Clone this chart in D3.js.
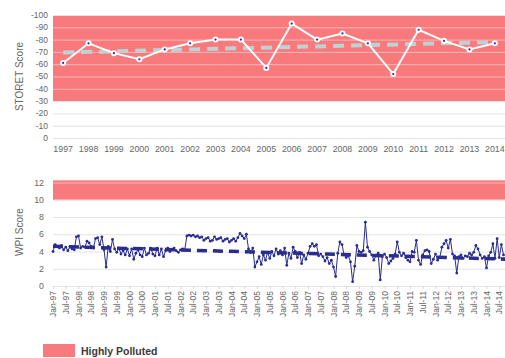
<!DOCTYPE html>
<html>
<head>
<meta charset="utf-8">
<script src="https://cdn.jsdelivr.net/npm/d3@7"></script>
<style>
  html, body { margin: 0; padding: 0; background: #fff; }
  svg { display: block; }
  text { font-family: "Liberation Sans", Arial, sans-serif; }
</style>
</head>
<body>
<svg id="chart" width="505" height="358"></svg>
<script>
// ---- STORET annual scores ----
const years = ["1997","1998","1999","2000","2001","2002","2003","2004","2005",
               "2006","2007","2008","2009","2010","2011","2012","2013","2014"];
const storetScores = [61, 77, 69, 64, 72, 77, 80, 80, 57, 93, 80, 85, 77, 52, 88, 79, 72, 77];
const storetTrend = [69.5, 78];            // linear trend, first and last year
const storetTicks = [0, 10, 20, 30, 40, 50, 60, 70, 80, 90, 100];
const storetTickLabels = ["0","-10","-20","-30","-40","-50","-60","-70","-80","-90","-100"];
const storetPolluted = [30, 100];

// ---- WPI monthly scores, starting Jan 1997 ----
const wpi1997 = [4.0, 4.8, 4.6, 4.4, 4.7, 4.2, 4.5, 4.1, 4.6, 4.3, 4.2, 5.7];
const wpi1998 = [5.8, 4.4, 4.6, 4.5, 5.2, 5.0, 4.6, 4.4, 5.5, 5.6, 4.8, 5.7];
const wpi1999 = [4.2, 2.2, 4.6, 4.0, 5.4, 4.3, 3.9, 4.4, 3.7, 4.1, 3.6, 4.3];
const wpi2000 = [3.5, 4.3, 3.1, 3.8, 4.2, 3.6, 3.4, 4.4, 3.6, 3.8, 4.4, 3.7];
const wpi2001 = [3.5, 4.4, 3.6, 4.3, 3.4, 4.1, 4.4, 4.0, 4.2, 4.4, 4.1, 3.9];
const wpi2002 = [4.2, 4.3, 4.2, 5.8, 5.9, 5.8, 5.9, 5.7, 5.8, 5.6, 5.7, 5.3];
const wpi2003 = [5.5, 5.6, 5.2, 5.3, 5.7, 5.4, 5.5, 5.6, 5.2, 5.4, 5.5, 5.1];
const wpi2004 = [5.3, 5.5, 5.2, 5.6, 6.1, 5.8, 5.5, 6.0, 4.3, 3.9, 4.4, 2.2];
const wpi2005 = [2.8, 3.4, 2.5, 3.6, 3.0, 3.9, 3.2, 4.0, 3.5, 4.3, 3.7, 4.1];
const wpi2006 = [3.6, 4.4, 2.4, 3.8, 3.2, 4.5, 4.0, 3.3, 3.9, 2.6, 3.6, 3.1];
const wpi2007 = [3.8, 4.6, 4.9, 4.6, 4.8, 3.5, 3.7, 3.4, 2.9, 3.3, 2.6, 3.0];
const wpi2008 = [2.2, 1.1, 3.8, 5.1, 4.8, 3.6, 3.3, 3.5, 2.8, 0.5, 2.3, 4.7];
const wpi2009 = [4.0, 3.9, 4.1, 7.4, 4.5, 4.0, 3.6, 3.0, 3.5, 3.8, 0.7, 3.4];
const wpi2010 = [3.7, 3.3, 2.6, 2.9, 3.2, 3.7, 5.1, 3.9, 3.5, 3.8, 3.3, 3.0];
const wpi2011 = [2.8, 4.0, 3.9, 5.3, 3.0, 2.5, 3.6, 4.1, 4.2, 4.0, 2.6, 3.1];
const wpi2012 = [3.7, 3.0, 3.3, 4.5, 4.9, 5.3, 4.4, 5.4, 3.7, 3.5, 1.5, 3.4];
const wpi2013 = [3.6, 3.2, 3.5, 3.4, 3.8, 3.6, 3.9, 4.7, 4.3, 3.6, 3.2, 3.4];
const wpi2014 = [2.1, 3.5, 3.9, 4.9, 3.2, 5.5, 3.3, 4.8, 3.6];
const wpiTrend = [4.6, 3.1];               // linear trend, Jan-97 to Dec-14
const wpiTicks = [0, 2, 4, 6, 8, 10, 12];
const wpiPolluted = [10, 12.25];
const monthTickLabels = [
  "Jan-97","Jul-97","Jan-98","Jul-98","Jan-99","Jul-99","Jan-00","Jul-00","Jan-01","Jul-01",
  "Jan-02","Jul-02","Jan-03","Jul-03","Jan-04","Jul-04","Jan-05","Jul-05","Jan-06","Jul-06",
  "Jan-07","Jul-07","Jan-08","Jul-08","Jan-09","Jul-09","Jan-10","Jul-10","Jan-11","Jul-11",
  "Jan-12","Jul-12","Jan-13","Jul-13","Jan-14","Jul-14"];

const legendLabel = "Highly Polluted";

const RED = "#f87a7c";
const NAVY = "#2a2c8f";
const GREY_TEXT = "#666";

const wpi = [].concat(wpi1997, wpi1998, wpi1999, wpi2000, wpi2001, wpi2002, wpi2003, wpi2004,
  wpi2005, wpi2006, wpi2007, wpi2008, wpi2009, wpi2010, wpi2011, wpi2012, wpi2013, wpi2014);

const svg = d3.select("#chart");

// ================= STORET panel =================
const upper = { left: 53, right: 505, top: 15, bottom: 138 };
const xS = d3.scalePoint().domain(years).range([upper.left, upper.right]).padding(0.4);
const yS = d3.scaleLinear().domain([0, 100]).range([upper.bottom, upper.top]);

const g1 = svg.append("g");
g1.append("rect")
  .attr("x", upper.left).attr("width", upper.right - upper.left)
  .attr("y", yS(storetPolluted[1])).attr("height", yS(storetPolluted[0]) - yS(storetPolluted[1]))
  .attr("fill", RED);

g1.selectAll("line.grid").data(storetTicks).join("line")
  .attr("x1", upper.left).attr("x2", upper.right)
  .attr("y1", d => yS(d) + 0.5).attr("y2", d => yS(d) + 0.5)
  .attr("stroke", d => (d > storetPolluted[0] && d < storetPolluted[1]) ? "rgba(255,255,255,0.45)" : "#e3e3e3")
  .attr("stroke-width", 1);

g1.selectAll("text.ytick").data(storetTicks).join("text")
  .attr("x", 48).attr("y", d => yS(d)).attr("dy", "0.35em")
  .attr("text-anchor", "end").attr("font-size", 8.5).attr("fill", GREY_TEXT)
  .text((d, i) => storetTickLabels[i]);

g1.selectAll("text.xtick").data(years).join("text")
  .attr("x", d => xS(d)).attr("y", 152)
  .attr("text-anchor", "middle").attr("font-size", 8.8).attr("fill", GREY_TEXT)
  .text(d => d);

g1.append("text")
  .attr("transform", `translate(23,${(upper.top + upper.bottom) / 2}) rotate(-90)`)
  .attr("text-anchor", "middle").attr("font-size", 10).attr("fill", GREY_TEXT)
  .text("STORET Score");

// trend
g1.append("line")
  .attr("x1", xS(years[0])).attr("x2", xS(years[years.length - 1]))
  .attr("y1", yS(storetTrend[0])).attr("y2", yS(storetTrend[1]))
  .attr("stroke", "#bcd3d6").attr("stroke-width", 4).attr("stroke-dasharray", "11,7");

// series
g1.append("path")
  .datum(storetScores)
  .attr("fill", "none").attr("stroke", "#fff").attr("stroke-width", 2)
  .attr("d", d3.line().x((d, i) => xS(years[i])).y(d => yS(d)));

g1.selectAll("circle.pt").data(storetScores).join("circle")
  .attr("cx", (d, i) => xS(years[i])).attr("cy", d => yS(d))
  .attr("r", 3).attr("fill", "#fff");
g1.selectAll("circle.ctr").data(storetScores).join("circle")
  .attr("cx", (d, i) => xS(years[i])).attr("cy", d => yS(d))
  .attr("r", 1.1).attr("fill", NAVY);

// ================= WPI panel =================
const lower = { left: 53, right: 505, top: 180, bottom: 286 };
const monthStep = 2.125;
const xW = d3.scaleLinear().domain([0, 215]).range([lower.left, lower.left + 215 * monthStep]);
const yW = d3.scaleLinear().domain([0, 12]).range([lower.bottom, 182.5]);

const g2 = svg.append("g");
g2.append("rect")
  .attr("x", lower.left).attr("width", lower.right - lower.left)
  .attr("y", yW(wpiPolluted[1])).attr("height", yW(wpiPolluted[0]) - yW(wpiPolluted[1]))
  .attr("fill", RED);

g2.selectAll("line.grid").data(wpiTicks).join("line")
  .attr("x1", lower.left).attr("x2", lower.right)
  .attr("y1", d => yW(d) + 0.5).attr("y2", d => yW(d) + 0.5)
  .attr("stroke", d => (d > wpiPolluted[0] && d < wpiPolluted[1]) ? "rgba(255,255,255,0.45)" : "#e3e3e3")
  .attr("stroke-width", 1);

g2.selectAll("text.ytick").data(wpiTicks).join("text")
  .attr("x", 44).attr("y", d => yW(d)).attr("dy", "0.35em")
  .attr("text-anchor", "end").attr("font-size", 8.8).attr("fill", GREY_TEXT)
  .text(d => d);

// x ticks every six months
g2.selectAll("line.xt").data(monthTickLabels).join("line")
  .attr("x1", (d, i) => xW(i * 6) + 0.5).attr("x2", (d, i) => xW(i * 6) + 0.5)
  .attr("y1", lower.bottom).attr("y2", lower.bottom + 3)
  .attr("stroke", "#d8d8d8");

g2.selectAll("text.xtick").data(monthTickLabels).join("text")
  .attr("transform", (d, i) => `translate(${xW(i * 6) + 3},${lower.bottom + 5}) rotate(-90)`)
  .attr("text-anchor", "end").attr("font-size", 8.5).attr("fill", GREY_TEXT)
  .text(d => d);

g2.append("text")
  .attr("transform", `translate(23,${232}) rotate(-90)`)
  .attr("text-anchor", "middle").attr("font-size", 10).attr("fill", GREY_TEXT)
  .text("WPI Score");

// series
g2.append("path")
  .datum(wpi)
  .attr("fill", "none").attr("stroke", NAVY).attr("stroke-width", 1)
  .attr("d", d3.line().x((d, i) => xW(i)).y(d => yW(d)));

g2.selectAll("circle.pt").data(wpi).join("circle")
  .attr("cx", (d, i) => xW(i)).attr("cy", d => yW(d))
  .attr("r", 1.4).attr("fill", NAVY);

// trend
g2.append("line")
  .attr("x1", xW(0)).attr("x2", xW(215))
  .attr("y1", yW(wpiTrend[0])).attr("y2", yW(wpiTrend[1]))
  .attr("stroke", NAVY).attr("stroke-width", 3.5).attr("stroke-dasharray", "10,6");

// ================= legend =================
svg.append("rect").attr("x", 43).attr("y", 344).attr("width", 32).attr("height", 13).attr("fill", RED);
svg.append("text").attr("x", 81).attr("y", 355)
  .attr("font-family", "Lato, sans-serif").attr("font-weight", 700)
  .attr("font-size", 10.5).attr("fill", "#3a3a3a")
  .text(legendLabel);
</script>
</body>
</html>
